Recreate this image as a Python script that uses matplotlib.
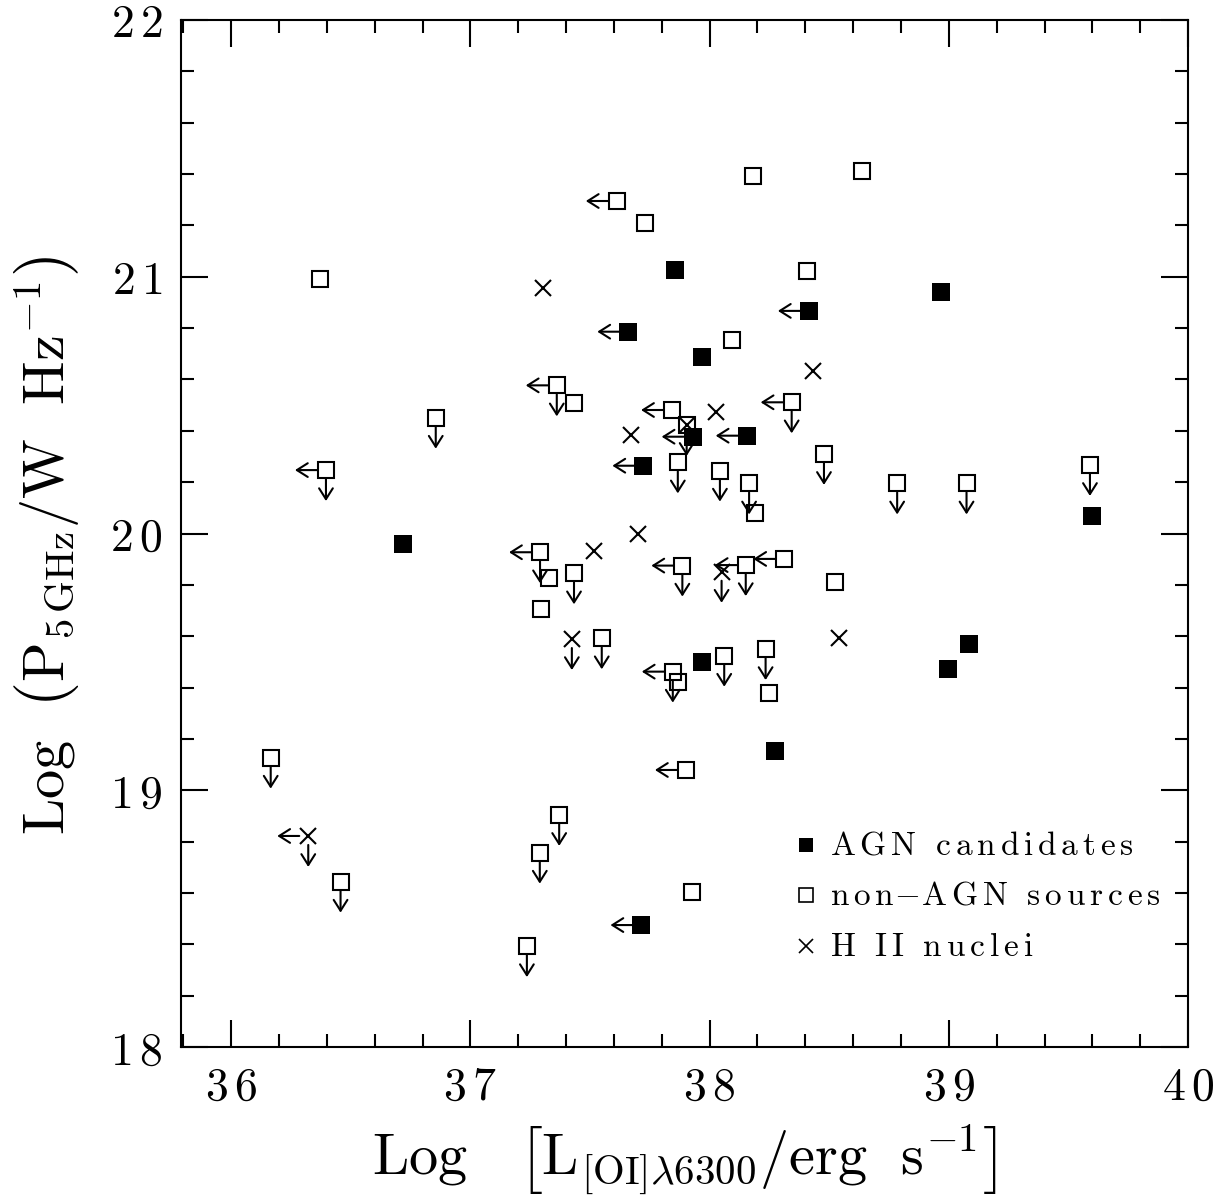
#!/usr/bin/env python3
"""
Radio power at 5 GHz against [OI]6300 luminosity for the nuclei sample.
Upper limits are drawn as arrows pointing left (line) or down (radio).
"""
import numpy as np
import matplotlib
matplotlib.use("Agg")
import matplotlib.pyplot as plt
from matplotlib.ticker import MultipleLocator, FuncFormatter

plt.rcParams["mathtext.fontset"] = "cm"

# AGN candidates: log L[OI], log P5GHz, limit flags
agn_loi = [37.855, 38.415, 37.660, 37.968, 38.966, 37.929, 38.155, 37.723,
           39.597, 36.719, 37.967, 39.084, 38.995, 38.273, 37.715]
agn_p5 = [21.026, 20.867, 20.786, 20.689, 20.942, 20.377, 20.381, 20.264,
          20.069, 19.959, 19.501, 19.570, 19.472, 19.154, 18.475]
agn_left = [0, 1, 1, 0, 0, 1, 1, 1, 0, 0, 0, 0, 0, 0, 1]
agn_down = [0] * 15

# non-AGN sources
non_loi = [38.183, 38.638, 37.612, 37.730, 38.408, 38.092, 37.361, 37.433,
           38.343, 37.843, 37.904, 37.867, 38.043, 38.165, 38.190, 38.478,
           38.784, 39.074, 39.590, 36.371, 36.855, 36.396, 37.291, 37.329,
           37.433, 37.295, 37.886, 38.151, 38.312, 38.524, 37.549, 37.846,
           37.867, 38.061, 38.234, 38.248, 37.901, 36.165, 36.457, 37.371,
           37.290, 37.236, 37.925]
non_p5 = [21.392, 21.413, 21.295, 21.208, 21.024, 20.754, 20.577, 20.507,
          20.511, 20.481, 20.423, 20.277, 20.245, 20.195, 20.081, 20.310,
          20.195, 20.195, 20.267, 20.990, 20.451, 20.247, 19.927, 19.828,
          19.845, 19.706, 19.875, 19.877, 19.901, 19.812, 19.592, 19.462,
          19.420, 19.524, 19.550, 19.378, 19.079, 19.127, 18.644, 18.904,
          18.757, 18.393, 18.604]
non_left = [0, 0, 1, 0, 0, 0, 1, 0, 1, 1, 0, 0, 0, 0, 0, 0, 0, 0, 0, 0, 0, 1,
            1, 0, 0, 0, 1, 1, 1, 0, 0, 1, 0, 0, 0, 0, 1, 0, 0, 0, 0, 0, 0]
non_down = [0, 0, 0, 0, 0, 0, 1, 0, 1, 0, 1, 1, 1, 1, 0, 1, 1, 1, 1, 0, 1, 1,
            1, 0, 1, 0, 1, 1, 0, 0, 1, 1, 0, 1, 1, 0, 0, 1, 1, 1, 1, 1, 0]

# H II nuclei
hii_loi = [37.305, 38.431, 38.028, 37.670, 37.904, 37.702, 37.518, 38.050,
           37.424, 38.542, 36.322]
hii_p5 = [20.955, 20.634, 20.474, 20.384, 20.423, 19.998, 19.933, 19.851,
          19.589, 19.592, 18.822]
hii_left = [0, 0, 0, 0, 0, 0, 0, 0, 0, 0, 1]
hii_down = [0, 0, 0, 0, 0, 0, 0, 1, 1, 0, 1]

fig = plt.figure(figsize=(12.23, 11.97), dpi=100)
ax = fig.add_axes([0.148, 0.1253, 0.8234, 0.858])
ax.set_xlim(35.79, 40)
ax.set_ylim(18, 22)

LW = 1.5
ARROW_START, ARROW_END = 9, 31   # pixels from the marker centre


def limit_arrows(xs, ys, left, down):
    # arrows start at the marker edge, sized in pixels so they look the same everywhere
    sx = (40 - 35.79) / (0.8234 * 1223)
    sy = 4.0 / (0.858 * 1197)
    style = "->,head_length=0.6,head_width=0.38"
    for x, y, l, d in zip(xs, ys, left, down):
        if l:
            ax.annotate("", xy=(x - ARROW_END * sx, y), xytext=(x - ARROW_START * sx, y),
                        arrowprops=dict(arrowstyle=style, lw=LW, color="k",
                                        shrinkA=0, shrinkB=0, mutation_scale=13))
        if d:
            ax.annotate("", xy=(x, y - ARROW_END * sy), xytext=(x, y - ARROW_START * sy),
                        arrowprops=dict(arrowstyle=style, lw=LW, color="k",
                                        shrinkA=0, shrinkB=0, mutation_scale=13))


ax.plot(agn_loi, agn_p5, "s", color="k", ms=12.5, mew=0, ls="none")
ax.plot(non_loi, non_p5, "s", mfc="none", mec="k", ms=12, mew=LW, ls="none")
ax.plot(hii_loi, hii_p5, "x", color="k", ms=12, mew=LW, ls="none")
limit_arrows(agn_loi, agn_p5, agn_left, agn_down)
limit_arrows(non_loi, non_p5, non_left, non_down)
limit_arrows(hii_loi, hii_p5, hii_left, hii_down)

# legend drawn by hand in the lower right corner
legend_fs = 24
ax.plot([0.6207], [0.1967], "s", color="k", ms=10.5, mew=0, transform=ax.transAxes)
ax.plot([0.6207], [0.1480], "s", mfc="none", mec="k", ms=10, mew=1.2, transform=ax.transAxes)
ax.plot([0.6207], [0.0983], "x", color="k", ms=10, mew=1.2, transform=ax.transAxes)
ax.text(0.6445, 0.1967, r"$\mathrm{A\,G\,N\ \ c\,a\,n\,d\,i\,d\,a\,t\,e\,s}$", transform=ax.transAxes,
        fontsize=legend_fs, va="center", ha="left")
ax.text(0.6445, 0.1480, r"$\mathrm{n\,o\,n\!-\!A\,G\,N\ \ s\,o\,u\,r\,c\,e\,s}$", transform=ax.transAxes,
        fontsize=legend_fs, va="center", ha="left")
ax.text(0.6445, 0.0983, r"$\mathrm{H\ \ I\,I\ \ n\,u\,c\,l\,e\,i}$", transform=ax.transAxes,
        fontsize=legend_fs, va="center", ha="left")

# axes: ticks inside on all four sides
ax.xaxis.set_major_locator(MultipleLocator(1))
ax.xaxis.set_minor_locator(MultipleLocator(0.2))
ax.yaxis.set_major_locator(MultipleLocator(1))
ax.yaxis.set_minor_locator(MultipleLocator(0.2))
ax.tick_params(which="both", direction="in", top=True, right=True, width=LW, colors="k")
ax.tick_params(which="major", length=19.5, pad=13, labelsize=33)
ax.tick_params(which="minor", length=9.5)
fmt = FuncFormatter(lambda v, pos: r"$\mathrm{%s}$" % r"\,".join(str(round(v))))
ax.xaxis.set_major_formatter(fmt)
ax.yaxis.set_major_formatter(fmt)
for s in ax.spines.values():
    s.set_linewidth(LW)

ax.set_xlabel(r"$\mathrm{Log\ \ \ \left[L_{[OI]\lambda6300}/erg\ \ s^{-1}\right]}$", fontsize=42)
ax.set_ylabel(r"$\mathrm{Log\ \ \left(P_{5\,GHz}/W\ \ Hz^{-1}\right)}$", fontsize=42)
ax.xaxis.label.set_va("center")
ax.yaxis.label.set_va("center")
ax.xaxis.set_label_coords(0.5, -0.11)
ax.yaxis.set_label_coords(-0.133, 0.489)

fig.savefig("out.png", dpi=100)
